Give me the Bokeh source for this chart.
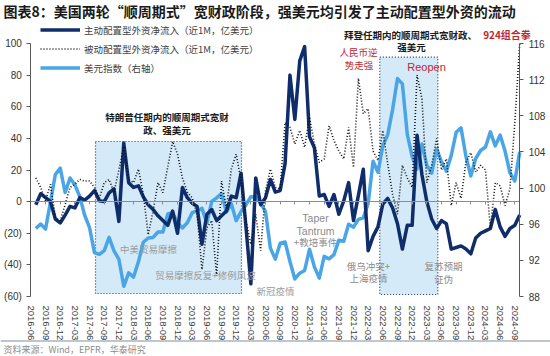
import pandas as pd
from bokeh.plotting import figure
from bokeh.models import (Range1d, LinearAxis, FixedTicker, Label, Legend, LegendItem, Arrow)
from bokeh.embed import file_html
from bokeh.resources import INLINE

# ---------------- data ----------------
all_months = [d.strftime("%Y-%m") for d in pd.date_range("2016-06-01", "2024-10-01", freq="MS")]
data_months = all_months[1:]          # 2016-07 .. 2024-10
tick_months = all_months[0:100:3]     # 2016-06 .. 2024-09

active = [
    -2, 5, 2.5, 0, -11, -13.5,
    -8.5, -3, -4, 2.5, 1, 3.5, 7, 0.5, 0, 5.5, 8, -12.5,
    37, 12, 9, 10, 3, -2, -5, -9, -12, -15, -6, -20,
    9, 2.5, -1, -3, -27, -8, -5, -12, -9, -6, 3.5, 2.5,
    18, -16, -52, 15, -2, 2.5, 14, 6, 7, 24, 80, 52,
    89, 98, 41, 34, 3.5, 4.5, -3, 4.5, -8, 0.5, 12, -12,
    4, 20.5, -31, -22, -16, -1.5, 2, -4, -14, -30, -15, -15,
    42, 17, 0, -11, -17, -12, -14, -30, -29, -28, -30, -33,
    -23, -20, -18.5, -17, -5, -16, -22, -17, -15, -8.4]

passive = [
    15, 9, 0.5, 11, -10, -12,
    -2, 9, 11, 14, 13, 13, 9, 2, 12, 14, 6, 20,
    35, 14, 12, 20.6, 4.7, -21, -6, 12, 5.7, 22, 38, 30,
    15, 6, 2.5, -8, -43, -16.5, -12, -47, 13, -4, 20.6, 30,
    13, -12, -27, -8, -31, 7, 20.6, 9, 8, 50, 47, 36.5,
    45, 34.4, 53.5, 36.5, 24.8, 27, 48, 38.6, 32, 27, 47, 21.6,
    78, 55.6, 58.8, 32, 26, 45, 23.8, 4.7, -8, 23, 15, 9,
    80, 65, 12, 23, 40, 20, 27, -2.5, 12, 2, 25, 31,
    18.6, 23, 20, -17, 12, 10, -2.5, 8, 50, 100]

dxy = [
    95.53, 96.02, 95.46, 98.46, 101.50, 102.21,
    99.51, 101.12, 100.35, 99.05, 96.99, 95.63, 92.86, 92.67, 93.08, 94.55, 93.05, 92.12,
    89.13, 90.61, 90.15, 91.84, 94.00, 94.47, 94.54, 95.14, 95.13, 97.13, 97.27, 96.17,
    95.58, 96.16, 97.28, 97.48, 97.75, 96.13, 98.52, 98.92, 99.38, 97.35, 98.27, 96.39,
    97.39, 98.13, 99.05, 99.02, 98.34, 97.39, 93.35, 92.14, 93.89, 94.04, 91.87, 89.94,
    90.58, 90.88, 93.23, 91.28, 90.03, 92.44, 92.17, 92.63, 94.23, 94.12, 95.99, 95.67,
    96.54, 96.71, 98.31, 102.96, 101.76, 104.69, 105.91, 108.70, 112.12, 111.53, 105.95, 103.52,
    102.10, 104.87, 102.51, 101.66, 104.33, 102.91, 101.86, 103.62, 106.17, 106.66, 103.50, 101.33,
    103.27, 104.16, 104.55, 106.22, 104.67, 105.87, 104.10, 101.70, 100.78, 103.98]

left_ticks = [-60, -40, -20, 0, 20, 40, 60, 80, 100]
left_labels = ["(60)", "(40)", "(20)", "0", "20", "40", "60", "80", "100"]
right_ticks = [88, 92, 96, 100, 104, 108, 112, 116]

legend_labels = ["主动配置型外资净流入（近1M，亿美元）",
                 "被动配置型外资净流入（近1M，亿美元）",
                 "美元指数（右轴）"]

x = [all_months.index(m) for m in data_months]
tick_pos = [all_months.index(m) for m in tick_months]

# ---------------- layout geometry (pixels) ----------------
W, H = 550, 356
FL, FR, FT, FB = 30.4, 519.2, 43.0, 296.0      # plotting area inside the canvas
L_MIN, L_MAX = -60, 100
R_MIN, R_MAX = 88, 116
X_MIN, X_MAX = 0, 100

xs = (FR - FL) / (X_MAX - X_MIN)
ls = (FB - FT) / (L_MAX - L_MIN)
rs = (FB - FT) / (R_MAX - R_MIN)
x_range = Range1d(X_MIN - FL / xs, X_MAX + (W - FR) / xs)
y_range = Range1d(L_MIN - (H - FB) / ls, L_MAX + FT / ls)
r_range = Range1d(R_MIN - (H - FB) / rs, R_MAX + FT / rs)

def px(page_x):   # page pixel -> x data
    return X_MIN + (page_x - FL) / xs

def py(page_y):   # page pixel -> left-axis data
    return L_MAX - (page_y - FT) / ls

CJK = "Noto Sans CJK SC"
NUM = "Liberation Sans"
DARK = "#0f2d6b"
LIGHT = "#4aa5e6"

p = figure(width=W, height=H, output_backend="svg", toolbar_location=None,
           x_range=x_range, y_range=y_range,
           min_border=0, min_border_left=0, min_border_right=0, min_border_top=0, min_border_bottom=0,
           background_fill_color="white", border_fill_color="white", outline_line_color=None)
p.grid.visible = False
p.extra_y_ranges = {"right": r_range}

# shaded periods
p.quad(left=[px(95), px(379.3)], right=[px(241), px(437.3)], top=[py(141), py(56.7)],
       bottom=[py(293), py(294)],
       fill_color="#d4eaf8", line_color="#1d3560", line_dash="1 2", line_width=1.2)

r_dxy = p.line(x, dxy, y_range_name="right", line_color=LIGHT, line_width=3.5, line_join="round")
r_act = p.line(x, active, line_color=DARK, line_width=3.5, line_join="round")
r_pas = p.line(x, passive, line_color="#111111", line_width=1.6, line_dash="1 2")

# axes
def style_y(ax):
    ax.minor_tick_line_color = None
    ax.major_tick_in = 0
    ax.major_tick_out = 4
    ax.major_label_standoff = 5
    ax.axis_line_color = "#595959"
    ax.major_tick_line_color = "#595959"
    ax.major_label_text_font = NUM
    ax.major_label_text_font_size = "10px"
    ax.major_label_text_color = "#333333"

ya = p.yaxis[0]
ya.ticker = FixedTicker(ticks=left_ticks)
ya.major_label_overrides = {t: l for t, l in zip(left_ticks, left_labels)}
ya.fixed_location = X_MIN
ya.bounds = (L_MIN, L_MAX)
style_y(ya)

ra = LinearAxis(y_range_name="right", ticker=FixedTicker(ticks=right_ticks),
                fixed_location=X_MAX, bounds=(R_MIN, R_MAX))
style_y(ra)
p.add_layout(ra, "right")

xa = p.xaxis[0]
xa.ticker = FixedTicker(ticks=tick_pos)
xa.major_label_overrides = {t: l for t, l in zip(tick_pos, tick_months)}
xa.fixed_location = L_MIN
xa.bounds = (X_MIN, X_MAX)
xa.major_label_orientation = "vertical"
xa.axis_line_color = None
xa.major_tick_line_color = None
xa.minor_tick_line_color = None
xa.major_label_standoff = 3
xa.major_label_text_font = NUM
xa.major_label_text_font_size = "9.5px"
xa.major_label_text_color = "#404040"

za = LinearAxis(fixed_location=0, ticker=FixedTicker(ticks=tick_pos), bounds=(X_MIN, X_MAX))
za.axis_line_color = "#8c8c8c"
za.major_tick_line_color = "#8c8c8c"
za.minor_tick_line_color = None
za.major_tick_in = 0
za.major_tick_out = 3
za.major_label_text_color = None
p.add_layout(za, "below")

# legend (location = bottom-left corner, relative to the plotting frame)
legend = Legend(items=[LegendItem(label=legend_labels[0], renderers=[r_act]),
                       LegendItem(label=legend_labels[1], renderers=[r_pas]),
                       LegendItem(label=legend_labels[2], renderers=[r_dxy])],
                location=(40, H - 77), padding=0, margin=0, spacing=0,
                glyph_width=40, glyph_height=19, label_height=19, label_standoff=4,
                label_text_font=CJK, label_text_font_size="9.5px", label_text_color="#404040",
                background_fill_alpha=0, border_line_color=None)
p.add_layout(legend)

def note(pxx, pyy, txt, color="#8c8c8c", size="9.5px", bold=False, font=CJK, align="center"):
    p.add_layout(Label(x=px(pxx), y=py(pyy), text=txt, text_align=align, text_baseline="middle",
                       text_color=color, text_font_size=size, text_font=font,
                       text_font_style="bold" if bold else "normal"))

note(166.5, 116, "特朗普任期内的顺周期式宽财", color="#1a1a1a", bold=True)
note(166.5, 129.3, "政、强美元", color="#1a1a1a", bold=True)
note(410, 34, "拜登任期内的顺周期式宽财政、", color="#1a1a1a", bold=True)
note(411, 46, "强美元", color="#1a1a1a", bold=True)
note(506.5, 34, "924组合拳", color="#c0282d", bold=True, size="10px")
note(358, 51, "人民币逆", color="#c0282d")
note(358.5, 64, "势走强", color="#c0282d")
note(426, 66, "Reopen", color="#c0282d", font=NUM, size="11px")
note(148, 248, "中美贸易摩擦", color="#9a9a9a")
note(205, 274, "贸易摩擦反复+修例风波", color="#9a9a9a")
note(275, 290, "新冠疫情", color="#9a9a9a")
note(315, 217, "Taper", font=NUM, size="10.5px")
note(315, 230, "Tantrum", font=NUM, size="10.5px")
note(315, 241, "+教培事件")
note(368, 265, "俄乌冲突+")
note(368, 277, "上海疫情")
note(443, 265, "复苏预期")
note(443, 278, "证伪")

# title, separator, source
note(3, 10, "图表8：美国两轮“顺周期式”宽财政阶段，强美元均引发了主动配置型外资的流动",
     color="#1a1a1a", bold=True, size="14px", align="left")
p.add_layout(Arrow(end=None, x_start=px(0), y_start=py(340.5), x_end=px(W), y_end=py(340.5),
                   line_color="#a8b3c2", line_width=1.5))
note(3, 348.5, "资料来源：Wind，EPFR，华泰研究", color="#8c8c8c", size="9px", align="left")

open("out.html", "w").write(file_html(p, INLINE))
